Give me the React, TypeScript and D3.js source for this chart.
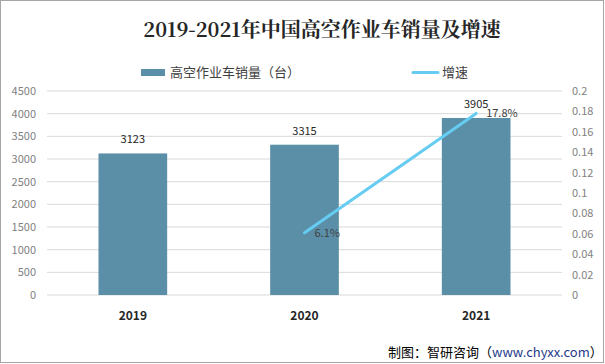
import React from "react";
import * as d3 from "d3";

const categories = ["2019", "2020", "2021"];
const sales = [3123, 3315, 3905];
const growth: (number | null)[] = [null, 0.061, 0.178];
const growthLabels = ["", "6.1%", "17.8%"];
const leftTicks = [0, 500, 1000, 1500, 2000, 2500, 3000, 3500, 4000, 4500];
const rightTicks = [0, 0.02, 0.04, 0.06, 0.08, 0.1, 0.12, 0.14, 0.16, 0.18, 0.2];

const W = 605, H = 364;
const left = 47, right = 562, top = 91, bottom = 295;

export default function App() {
  const x = d3.scaleBand<string>().domain(categories).range([left, right]).padding(0);
  const yL = d3.scaleLinear().domain([0, 4500]).range([bottom, top]);
  const yR = d3.scaleLinear().domain([0, 0.2]).range([bottom, top]);
  const bw = x.bandwidth() * 0.4;
  const cx = (c: string) => (x(c) as number) + x.bandwidth() / 2;
  const pts = categories
    .map((c, i) => ({ c, v: growth[i], i }))
    .filter((d) => d.v != null) as { c: string; v: number; i: number }[];
  const line = d3.line<{ c: string; v: number }>().x((d) => cx(d.c)).y((d) => yR(d.v));
  const font = "'Microsoft YaHei', 'Noto Sans CJK SC', sans-serif";
  return (
    <svg width={W} height={H} style={{ position: "absolute", left: 0, top: 0 }}>
      <rect x={0.5} y={0.5} width={W - 2} height={H - 2} fill="#fff" stroke="#a6a6a6" />
      <text x={322} y={37} textAnchor="middle" fontFamily="'Noto Serif CJK SC', 'DejaVu Serif', serif" fontWeight="bold" fontSize={20} fill="#262626">
        2019-2021年中国高空作业车销量及增速
      </text>
      {/* legend */}
      <rect x={141} y={69} width={24} height={7} fill="#5B8FA7" />
      <text x={170} y={77} fontFamily={font} fontSize={13} fill="#404040">高空作业车销量（台）</text>
      <line x1={413} x2={438} y1={72.5} y2={72.5} stroke="#66CCF2" strokeWidth={3} strokeLinecap="round" />
      <text x={442} y={77} fontFamily={font} fontSize={13} fill="#404040">增速</text>
      {/* grid */}
      {leftTicks.map((t) => (
        <line key={t} x1={left} x2={right} y1={yL(t)} y2={yL(t)} stroke="#d9d9d9" strokeWidth={1} />
      ))}
      {leftTicks.map((t) => (
        <text key={"l" + t} x={36} y={yL(t) + 4} textAnchor="end" fontFamily={font} fontSize={11} fill="#7f7f7f">{t}</text>
      ))}
      {rightTicks.map((t) => (
        <text key={"r" + t} x={572} y={yR(t) + 4} textAnchor="start" fontFamily={font} fontSize={11} fill="#7f7f7f">{String(+t.toFixed(2))}</text>
      ))}
      {/* bars */}
      {categories.map((c, i) => (
        <g key={c}>
          <rect x={cx(c) - bw / 2} y={yL(sales[i])} width={bw} height={bottom - yL(sales[i])} fill="#5B8FA7" />
          <text x={cx(c)} y={yL(sales[i]) - 10} textAnchor="middle" fontFamily={font} fontSize={11} fill="#262626">{sales[i]}</text>
          <text x={cx(c)} y={320} textAnchor="middle" fontFamily={font} fontSize={12} fontWeight="bold" fill="#262626">{c}</text>
        </g>
      ))}
      <path d={line(pts) || ""} fill="none" stroke="#66CCF2" strokeWidth={3} strokeLinecap="round" />
      {pts.map((d) => (
        <text key={"g" + d.c} x={cx(d.c) + 10} y={yR(d.v) + 4} fontFamily={font} fontSize={11} fill="#404040">{growthLabels[d.i]}</text>
      ))}
      <text x={388} y={357} fontFamily={font} fontSize={13} fill="#000">
        制图：智研咨询（<tspan fill="#1f3a8a">www.chyxx.com</tspan>）
      </text>
    </svg>
  );
}
